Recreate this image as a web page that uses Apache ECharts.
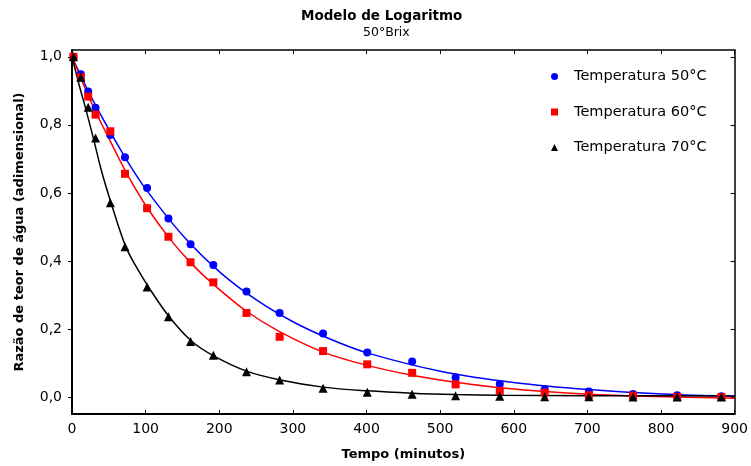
<!DOCTYPE html>
<html>
<head>
<meta charset="utf-8">
<script src="https://cdn.jsdelivr.net/npm/echarts@6/dist/echarts.min.js"></script>
<style>
html,body{margin:0;padding:0;background:#fff;}
#chart{width:751px;height:466px;}
</style>
</head>
<body>
<div id="chart"></div>
<script>
// ---- data ----
const titleText = 'Modelo de Logaritmo';
const subtitleText = '50°Brix';
const xName = 'Tempo (minutos)';
const yName = 'Razão de teor de água (adimensional)';
const seriesNames = ['Temperatura 50°C', 'Temperatura 60°C', 'Temperatura 70°C'];

const xTicks = [0, 100, 200, 300, 400, 500, 600, 700, 800, 900];
const yTicks = [0, 0.2, 0.4, 0.6, 0.8, 1.0];

// measured points
const tempo = [2, 12, 22, 32, 52, 72, 102, 131, 161, 192, 237, 282, 341, 401, 462, 521, 581, 642, 702, 762, 822, 882];
const razao50 = [1.0, 0.949, 0.898, 0.85, 0.77, 0.705, 0.614, 0.525, 0.449, 0.388, 0.31, 0.247, 0.187, 0.131, 0.104, 0.057, 0.038, 0.022, 0.016, 0.009, 0.005, 0.002];
const razao60 = [1.0, 0.94, 0.883, 0.83, 0.781, 0.656, 0.555, 0.471, 0.396, 0.337, 0.247, 0.177, 0.135, 0.096, 0.071, 0.037, 0.018, 0.013, 0.005, 0.004, 0.0, 0.0];
const razao70 = [1.0, 0.94, 0.852, 0.761, 0.571, 0.442, 0.323, 0.236, 0.163, 0.123, 0.074, 0.05, 0.026, 0.014, 0.008, 0.004, 0.002, 0.001, 0.001, 0.0, 0.0, 0.0];

// fitted curves
const curveTempo50 = [0, 26, 52, 77, 102, 152, 202, 252, 302, 352, 402, 502, 602, 702, 802, 900];
const curve50 = [1.0, 0.882, 0.779, 0.687, 0.606, 0.471, 0.365, 0.283, 0.219, 0.169, 0.129, 0.075, 0.042, 0.022, 0.009, 0.002];
const curveTempo60 = [0, 27, 52, 77, 102, 131, 161, 192, 237, 282, 341, 401, 462, 521, 581, 642, 702, 762, 822, 900];
const curve60 = [1.0, 0.862, 0.752, 0.647, 0.557, 0.47, 0.395, 0.331, 0.252, 0.192, 0.132, 0.093, 0.064, 0.043, 0.027, 0.016, 0.008, 0.003, 0.0, -0.004];
const curveTempo70 = [0, 10, 18, 29, 40, 53, 73, 88, 104, 132, 163, 193, 237, 283, 341, 401, 462, 521, 581, 700, 900];
const curve70 = [1.0, 0.915, 0.852, 0.761, 0.665, 0.571, 0.442, 0.38, 0.323, 0.236, 0.163, 0.12, 0.076, 0.05, 0.029, 0.018, 0.011, 0.007, 0.005, 0.004, 0.003];

const colors = ['#0000ff', '#ff0000', '#000000'];
const symbols = ['circle', 'rect', 'triangle'];

// ---- build ----
const zip = (xs, ys) => xs.map((x, i) => [x, ys[i]]);
const pts = [razao50, razao60, razao70];
const curves = [[curveTempo50, curve50], [curveTempo60, curve60], [curveTempo70, curve70]];

const FONT = 'DejaVu Sans';
const Y_MIN = -0.05, Y_MAX = 1.02;

const series = [];
curves.forEach((c, i) => {
  series.push({
    name: 'Ajuste ' + seriesNames[i],
    type: 'line',
    data: zip(c[0], c[1]),
    showSymbol: false,
    symbol: 'none',
    smooth: 0.35,
    silent: true,
    lineStyle: { color: colors[i], width: 1.5 },
    z: 2
  });
});
pts.forEach((p, i) => {
  series.push({
    name: seriesNames[i],
    type: 'scatter',
    data: zip(tempo, p),
    symbol: symbols[i],
    symbolSize: i === 2 ? 9 : 8,
    itemStyle: { color: colors[i], opacity: 1 },
    clip: false,
    z: 3
  });
});

const chart = echarts.init(document.getElementById('chart'), null, { renderer: 'canvas' });
chart.setOption({
  animation: false,
  backgroundColor: '#ffffff',
  title: [
    { text: titleText, left: 301, top: 9, padding: 0,
      textStyle: { fontFamily: FONT, fontWeight: 'bold', fontSize: 13.5, color: '#000' } },
    { text: subtitleText, left: 363, top: 26, padding: 0,
      textStyle: { fontFamily: FONT, fontWeight: 'normal', fontSize: 12.5, color: '#000' } }
  ],
  legend: {
    orient: 'vertical',
    left: 551,
    top: 69,
    padding: 0,
    itemWidth: 7,
    itemHeight: 7,
    itemGap: 20.5,
    data: seriesNames.map((n, i) => ({ name: n, icon: symbols[i], itemStyle: { opacity: 1 } })),
    textStyle: { fontFamily: FONT, fontSize: 14.5, color: '#000', lineHeight: 14, padding: [0, 0, 0, 11] }
  },
  grid: { left: 72, right: 15, top: 50, bottom: 52, containLabel: false },
  xAxis: [
    {
      type: 'value', position: 'bottom', min: 0, max: 900, interval: 100,
      name: xName, nameLocation: 'middle', nameGap: 34,
      nameTextStyle: { fontFamily: FONT, fontWeight: 'bold', fontSize: 13, color: '#000' },
      axisLine: { show: true, onZero: false, lineStyle: { color: '#000', width: 2 } },
      axisTick: { show: true, inside: true, length: 4, lineStyle: { color: '#000', width: 1 } },
      axisLabel: { margin: 8, fontFamily: FONT, fontSize: 14, color: '#000' },
      splitLine: { show: false }
    },
    {
      type: 'value', position: 'top', min: 0, max: 900, interval: 100,
      axisLine: { show: true, onZero: false, lineStyle: { color: '#000', width: 1.5 } },
      axisTick: { show: true, inside: true, length: 4, lineStyle: { color: '#000', width: 1 } },
      axisLabel: { show: false },
      splitLine: { show: false }
    }
  ],
  yAxis: [
    {
      type: 'value', position: 'left', min: Y_MIN, max: Y_MAX,
      name: yName, nameLocation: 'middle', nameGap: 46, nameRotate: 90,
      nameTextStyle: { fontFamily: FONT, fontWeight: 'bold', fontSize: 13, color: '#000' },
      axisLine: { show: true, onZero: false, lineStyle: { color: '#000', width: 2 } },
      axisTick: { show: true, inside: false, length: 4, customValues: yTicks, lineStyle: { color: '#000', width: 1 } },
      axisLabel: { margin: 10, fontFamily: FONT, fontSize: 14, color: '#000', customValues: yTicks,
        formatter: v => v.toFixed(1).replace('.', ',') },
      splitLine: { show: false }
    },
    {
      type: 'value', position: 'right', min: Y_MIN, max: Y_MAX,
      axisLine: { show: true, onZero: false, lineStyle: { color: '#000', width: 1.5 } },
      axisTick: { show: true, inside: true, length: 4, customValues: yTicks, lineStyle: { color: '#000', width: 1 } },
      axisLabel: { show: false },
      splitLine: { show: false }
    }
  ],
  series: series
});
</script>
</body>
</html>
